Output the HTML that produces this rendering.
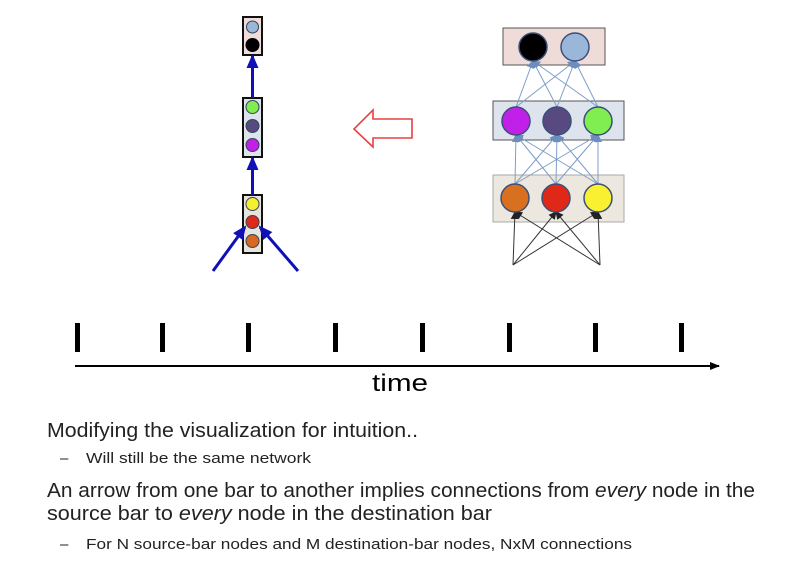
<!DOCTYPE html>
<html><head><style>body{margin:0;background:#fff}svg{display:block}</style></head><body>
<svg width="796" height="574" viewBox="0 0 796 574" xmlns="http://www.w3.org/2000/svg" font-family="Liberation Sans, sans-serif">
<defs>
<marker id="bh" markerWidth="8" markerHeight="8" refX="7" refY="4" orient="auto" markerUnits="userSpaceOnUse"><path d="M0,0 L8,4 L0,8 z" fill="#6c8ebf"/></marker>
<marker id="kh" markerWidth="8" markerHeight="8" refX="7" refY="4" orient="auto" markerUnits="userSpaceOnUse"><path d="M0,0 L8,4 L0,8 z" fill="#222"/></marker>
<marker id="uh" markerWidth="14" markerHeight="12" refX="12" refY="6" orient="auto" markerUnits="userSpaceOnUse"><path d="M0,0 L14,6 L0,12 z" fill="#1010b8"/></marker>
<marker id="th" markerWidth="10" markerHeight="8" refX="9" refY="4" orient="auto" markerUnits="userSpaceOnUse"><path d="M0,0 L10,4 L0,8 z" fill="#000"/></marker>
</defs>
<rect x="243" y="17" width="19" height="38" fill="#f0dcd8" stroke="#111" stroke-width="2"/>
<circle cx="252.5" cy="27" r="6" fill="#9ab6d8" stroke="#345" stroke-width="1"/>
<circle cx="252.5" cy="45" r="7" fill="#000"/>
<rect x="243" y="98" width="19" height="59" fill="#dde4ee" stroke="#111" stroke-width="2"/>
<circle cx="252.5" cy="107" r="6.5" fill="#80ee50" stroke="#345"/>
<circle cx="252.5" cy="126" r="6.5" fill="#584a80" stroke="#345"/>
<circle cx="252.5" cy="145" r="6.5" fill="#c020e8" stroke="#345"/>
<rect x="243" y="195" width="19" height="58" fill="#e8e4dc" stroke="#111" stroke-width="2"/>
<circle cx="252.5" cy="204" r="6.5" fill="#f4f030" stroke="#345"/>
<circle cx="252.5" cy="222" r="6.5" fill="#e02818" stroke="#345"/>
<circle cx="252.5" cy="241" r="6.5" fill="#d86820" stroke="#345"/>
<line x1="252.5" y1="98" x2="252.5" y2="56" stroke="#1010b8" stroke-width="3" marker-end="url(#uh)"/>
<line x1="252.5" y1="195" x2="252.5" y2="158" stroke="#1010b8" stroke-width="3" marker-end="url(#uh)"/>
<line x1="213" y1="271" x2="245" y2="227" stroke="#1010b8" stroke-width="3" marker-end="url(#uh)"/>
<line x1="298" y1="271" x2="260" y2="227" stroke="#1010b8" stroke-width="3" marker-end="url(#uh)"/>
<path d="M354,129 L373,110 L373,119 L412,119 L412,138 L373,138 L373,147 Z" fill="#fff" stroke="#e84040" stroke-width="1.6"/>
<rect x="503" y="28" width="102" height="37" fill="#efdcd8" stroke="#555"/>
<rect x="493" y="101" width="131" height="39" fill="#dde4ee" stroke="#555"/>
<rect x="493" y="175" width="131" height="47" fill="#ece8e0" stroke="#aaa"/>
<g stroke="#7e9ec8" stroke-width="1" marker-end="url(#bh)">
<line x1="516" y1="107" x2="533" y2="61"/><line x1="557" y1="107" x2="533" y2="61"/><line x1="598" y1="107" x2="533" y2="61"/>
<line x1="516" y1="107" x2="575" y2="61"/><line x1="557" y1="107" x2="575" y2="61"/><line x1="598" y1="107" x2="575" y2="61"/>
<line x1="515" y1="184" x2="516" y2="135"/><line x1="556" y1="184" x2="516" y2="135"/><line x1="598" y1="184" x2="516" y2="135"/>
<line x1="515" y1="184" x2="557" y2="135"/><line x1="556" y1="184" x2="557" y2="135"/><line x1="598" y1="184" x2="557" y2="135"/>
<line x1="515" y1="184" x2="598" y2="135"/><line x1="556" y1="184" x2="598" y2="135"/><line x1="598" y1="184" x2="598" y2="135"/>
</g>
<g stroke="#333" stroke-width="1" marker-end="url(#kh)">
<line x1="513" y1="265" x2="515" y2="212"/><line x1="513" y1="265" x2="556" y2="212"/><line x1="513" y1="265" x2="598" y2="212"/>
<line x1="600" y1="265" x2="515" y2="212"/><line x1="600" y1="265" x2="556" y2="212"/><line x1="600" y1="265" x2="598" y2="212"/>
</g>
<g stroke="#3a5078" stroke-width="1.5">
<circle cx="533" cy="47" r="14" fill="#000"/>
<circle cx="575" cy="47" r="14" fill="#9ab6d8"/>
<circle cx="516" cy="121" r="14" fill="#c020e8"/>
<circle cx="557" cy="121" r="14" fill="#584a80"/>
<circle cx="598" cy="121" r="14" fill="#80ee50"/>
<circle cx="515" cy="198" r="14" fill="#d87020"/>
<circle cx="556" cy="198" r="14" fill="#e02818"/>
<circle cx="598" cy="198" r="14" fill="#f8f030"/>
</g>
<g fill="#000">
<rect x="75" y="323" width="5" height="29"/><rect x="160" y="323" width="5" height="29"/><rect x="246" y="323" width="5" height="29"/><rect x="333" y="323" width="5" height="29"/><rect x="420" y="323" width="5" height="29"/><rect x="507" y="323" width="5" height="29"/><rect x="593" y="323" width="5" height="29"/><rect x="679" y="323" width="5" height="29"/>
</g>
<line x1="75" y1="366" x2="719" y2="366" stroke="#000" stroke-width="2" marker-end="url(#th)"/>
<text x="372" y="391" font-size="24" textLength="56" lengthAdjust="spacingAndGlyphs">time</text>
<g fill="#222">
<text x="47" y="437" font-size="20" textLength="371" lengthAdjust="spacingAndGlyphs">Modifying the visualization for intuition..</text>
<text x="60" y="463" font-size="15">–</text>
<text x="86" y="463" font-size="15" textLength="225" lengthAdjust="spacingAndGlyphs">Will still be the same network</text>
<text x="47" y="497" font-size="20" textLength="708" lengthAdjust="spacingAndGlyphs">An arrow from one bar to another implies connections from <tspan font-style="italic">every</tspan> node in the</text>
<text x="47" y="520" font-size="20" textLength="445" lengthAdjust="spacingAndGlyphs">source bar to <tspan font-style="italic">every</tspan> node in the destination bar</text>
<text x="60" y="549" font-size="15">–</text>
<text x="86" y="549" font-size="15" textLength="546" lengthAdjust="spacingAndGlyphs">For N source-bar nodes and M destination-bar nodes,  NxM connections</text>
</g>
</svg>
</body></html>
